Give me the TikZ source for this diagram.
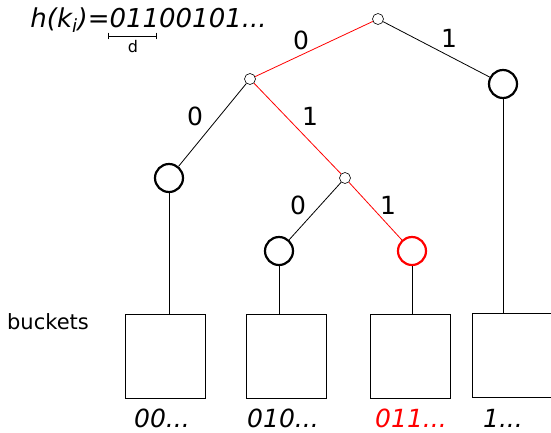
\documentclass[tikz,border=0pt]{standalone}
\usepackage{fontspec}
\setmainfont{DejaVu Sans}
\usetikzlibrary{arrows}

\begin{document}
\begin{tikzpicture}[x=1pt,y=-1pt,line width=0.8pt,
        inner/.style = {shape=circle, draw, inner sep=0pt, minimum size=11pt, line width=0.6pt},
        leaf/.style = {shape=circle, draw, inner sep=0pt, minimum size=28pt, line width=2.2pt},
        bucket/.style = {draw, line width=1pt, minimum width=80pt, minimum height=84pt, inner sep=0pt},
        bit/.style = {font=\fontsize{25}{25}\selectfont},
        tag/.style = {font=\fontsize{25}{25}\selectfont\itshape, inner sep=0pt}]
        \useasboundingbox (0,0) rectangle (551,432);
        % tree
        \node[inner] (r) at (378,19) {};
        \node[inner] (0) at (250,79) {};
        \node[leaf] (1) at (503,84) {};
        \node[leaf] (00) at (169,178) {};
        \node[inner] (01) at (345,178) {};
        \node[leaf] (010) at (279,251) {};
        \node[leaf,red] (011) at (412,251) {};
        \draw[red] (r) -- (0);
        \draw (r) -- (1);
        \draw (0) -- (00);
        \draw[red] (0) -- (01);
        \draw (01) -- (010);
        \draw[red] (01) -- (011);
        \node[bit] (l0) at (301,40) {0};
        \node[bit] (l1) at (449,38) {1};
        \node[bit] (l00) at (195,116) {0};
        \node[bit] (l01) at (310,116) {1};
        \node[bit] (l010) at (298,205) {0};
        \node[bit] (l011) at (388,205) {1};
        % buckets
        \node[bucket] (b00) at (165,356) {};
        \node[bucket] (b010) at (286,356) {};
        \node[bucket] (b011) at (410,356) {};
        \node[bucket,minimum width=81pt] (b1) at (512.5,355.5) {};
        \draw (00) -- (00 |- b00.north);
        \draw (010) -- (010 |- b010.north);
        \draw (011) -- (011 |- b011.north);
        \draw (1) -- (1 |- b1.north);
        \node[font=\fontsize{21}{21}\selectfont] (bk) at (48,322) {buckets};
        \node[tag] (t00) at (162,418) {00...};
        \node[tag] (t010) at (283,418) {010...};
        \node[tag,red] (t011) at (411,418) {011...};
        \node[tag] (t1) at (503,418) {1...};
        % hash
        \node[tag,anchor=west,font=\fontsize{26}{26}\selectfont\itshape] (h) at (30,20) {h(k\textsubscript{i})=01100101...};
        \coordinate (dl) at (108,36);
        \coordinate (dr) at (157,36);
        \draw[|-|,line width=0.7pt] (dl) -- (dr);
        \node[font=\fontsize{16}{16}\selectfont] (d) at (133,47) {d};
\end{tikzpicture}
\end{document}
